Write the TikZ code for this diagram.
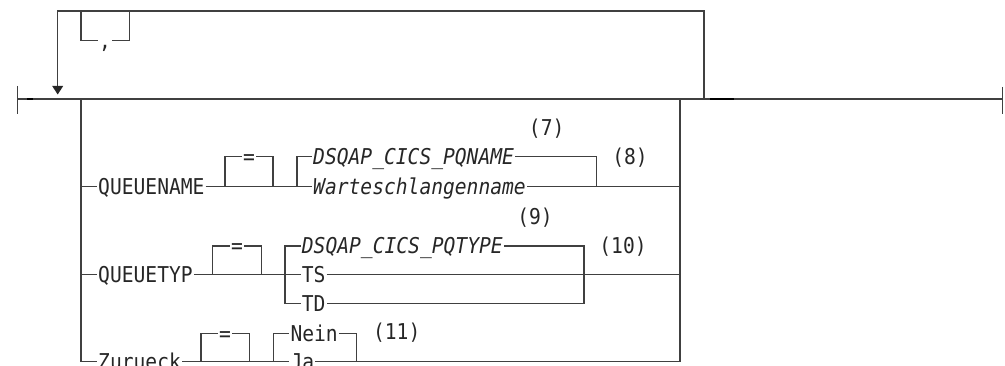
\documentclass[tikz,border=0pt]{standalone}
\usepackage{fontspec}
\setmonofont[FakeStretch=0.9]{DejaVu Sans Mono}
\usepackage{tikz}

\begin{document}
\begin{tikzpicture}[x=1pt,y=-1pt,
    rail/.style={draw=black!75, line width=1.2pt},
    word/.style={inner sep=1pt, anchor=west, text=black!85,
      font=\ttfamily\fontsize{21.8}{26}\selectfont, text height=15.9pt, text depth=0pt},
    var/.style={word, font=\ttfamily\itshape\fontsize{21.8}{26}\selectfont},
    note/.style={word, anchor=center}]
    \useasboundingbox (0,0) rectangle (1005,366);
    \clip (0,0) rectangle (1005,366);

    % main line with start and end bars
    \coordinate (start) at (17.7,99);
    \coordinate (finish) at (1002.7,99);
    \draw[rail] (17.7,86) -- (17.7,114);
    \draw[rail] (1002.7,87) -- (1002.7,114);
    \draw[rail] (start) -- (finish);
    \draw[line width=1.8pt] (27,99) -- (33,99);
    \draw[line width=1.8pt] (710,99) -- (734,99);

    % repeat loop with separator
    \coordinate (gin) at (81,99);
    \coordinate (gout) at (680,99);
    \coordinate (back) at (704,99);
    \draw[rail] (back) -- (704,11) -- (57.7,11) -- (57.7,86);
    \fill[black!85] (52.2,86) -- (63.2,86) -- (57.7,94.5) -- cycle;
    \node[note] (sep) at (105,40.3) {,};
    \draw[rail] (81,11) -- (81,40.3) -- (sep.west);
    \draw[rail] (sep.east) -- (129.3,40.3) -- (129.3,11);

    % group rails
    \draw[rail] (gin) -- (81,361.7);
    \draw[rail] (gout) -- (680,361.7);

    % QUEUENAME
    \node[word] (qname) at (97,186.5) {QUEUENAME};
    \node[note] (eqa) at (249,156.7) {=};
    \node[var] (pqname) at (312,156.7) {DSQAP\_CICS\_PQNAME};
    \node[var] (wname) at (312,186.5) {Warteschlangenname};
    \node[note] (n7) at (546.7,128) {(7)};
    \node[note] (n8) at (630,157) {(8)};
    \draw[rail] (81,186.5) -- (qname.west);
    \draw[rail] (qname.east) -- (wname.west);
    \draw[rail] (225,186.5) -- (225,156.7) -- (eqa.west);
    \draw[rail] (eqa.east) -- (273,156.7) -- (273,186.5);
    \draw[rail] (297,186.5) -- (297,156.7) -- (pqname.west);
    \draw[rail] (pqname.east) -- (596.7,156.7) -- (596.7,186.5);
    \draw[rail] (wname.east) -- (680,186.5);

    % QUEUETYP
    \node[word] (qtyp) at (97,274.3) {QUEUETYP};
    \node[note] (eqb) at (237,246) {=};
    \node[var] (pqtype) at (300.7,246) {DSQAP\_CICS\_PQTYPE};
    \node[word] (ts) at (300.7,274.3) {TS};
    \node[word] (td) at (300.7,303.3) {TD};
    \node[note] (n9) at (535,216.7) {(9)};
    \node[note] (n10) at (623,246) {(10)};
    \draw[rail] (81,274.3) -- (qtyp.west);
    \draw[rail] (qtyp.east) -- (ts.west);
    \draw[rail] (212.7,274.3) -- (212.7,246) -- (eqb.west);
    \draw[rail] (eqb.east) -- (261.7,246) -- (261.7,274.3);
    \draw[rail] (td.west) -- (285,303.3) -- (285,246) -- (pqtype.west);
    \draw[rail] (pqtype.east) -- (584,246) -- (584,303.3) -- (td.east);
    \draw[rail] (ts.east) -- (680,274.3);

    % Zurueck
    \node[word] (zur) at (97,361.7) {Zurueck};
    \node[note] (eqc) at (225,333.3) {=};
    \node[word] (nein) at (289.3,333.3) {Nein};
    \node[word] (ja) at (289.3,361.7) {Ja};
    \node[note] (n11) at (396.7,331.7) {(11)};
    \draw[rail] (81,361.7) -- (zur.west);
    \draw[rail] (zur.east) -- (ja.west);
    \draw[rail] (201,361.7) -- (201,333.3) -- (eqc.west);
    \draw[rail] (eqc.east) -- (249.3,333.3) -- (249.3,361.7);
    \draw[rail] (273.3,361.7) -- (273.3,333.3) -- (nein.west);
    \draw[rail] (nein.east) -- (356.7,333.3) -- (356.7,361.7);
    \draw[rail] (ja.east) -- (680,361.7);
\end{tikzpicture}
\end{document}
